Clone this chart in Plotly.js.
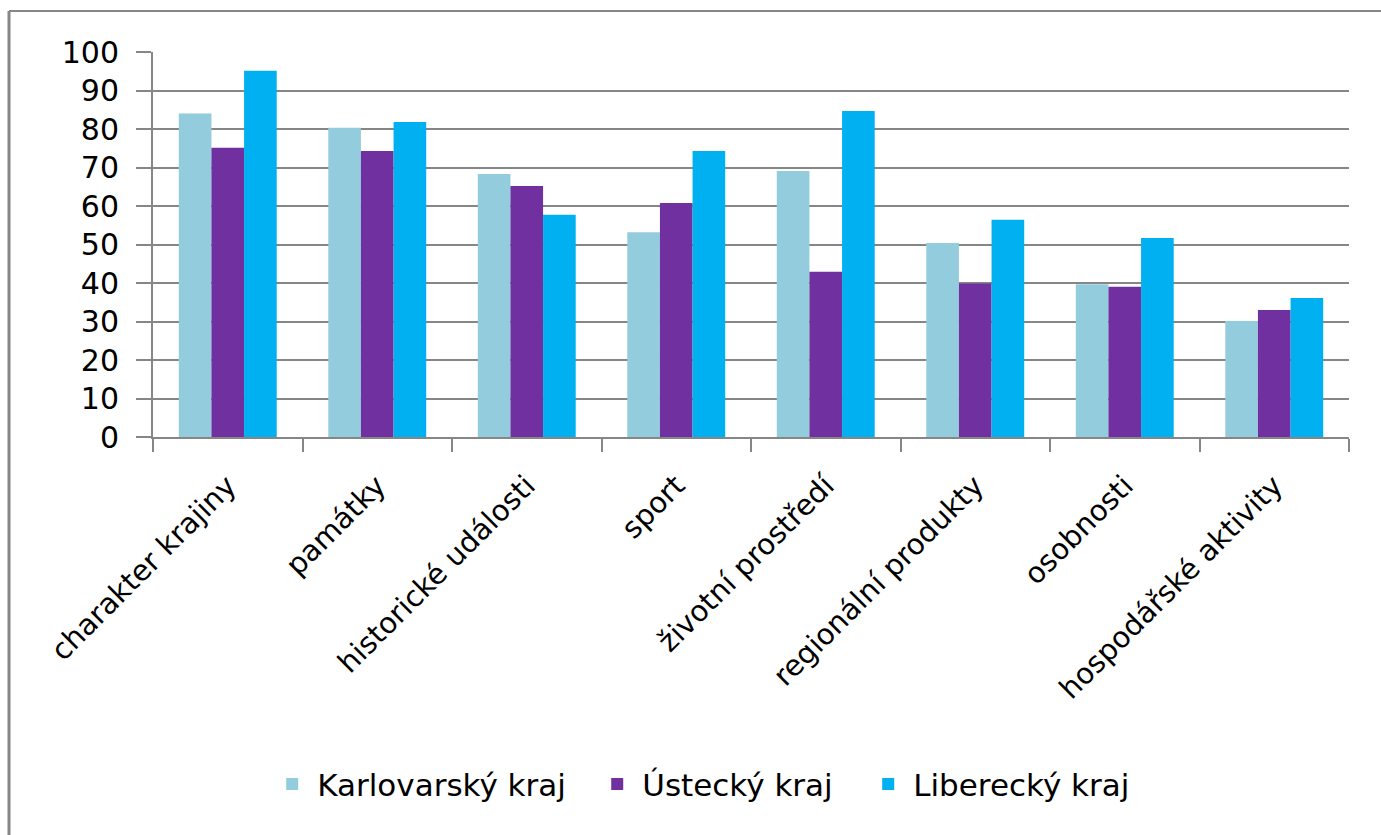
<!DOCTYPE html>
<html>
<head>
<meta charset="utf-8">
<script src="https://cdn.plot.ly/plotly-3.0.1.min.js"></script>
<style>
html,body{margin:0;padding:0;background:#fff;}
#chart{width:1381px;height:835px;}
</style>
</head>
<body>
<div id="chart"></div>
<script>
const categories = ["charakter krajiny","památky","historické události","sport","životní prostředí","regionální produkty","osobnosti","hospodářské aktivity"];
const seriesNames = ["Karlovarský kraj","Ústecký kraj","Liberecký kraj"];
const karlovarsky = [84, 80.3, 68.3, 53.2, 69.1, 50.4, 39.7, 30.1];
const ustecky = [75.1, 74.3, 65.2, 60.8, 42.9, 39.9, 39.0, 33.0];
const liberecky = [95.1, 81.8, 57.7, 74.3, 84.7, 56.4, 51.7, 36.1];
const yTicks = [0,10,20,30,40,50,60,70,80,90,100];
const colors = ["#93CDDD","#7030A0","#00B0F0"];

const FONT = "DejaVu Sans, Verdana, sans-serif";
const seriesValues = [karlovarsky, ustecky, liberecky];
const legendWidths = [270, 216, 212];
const traces = seriesValues.map((vals, i) => ({
  type: "bar",
  name: seriesNames[i],
  x: categories,
  y: vals,
  legendwidth: legendWidths[i],
  marker: {color: colors[i], line: {width: 0}},
  hoverinfo: "x+y+name"
}));

const layout = {
  width: 1381, height: 835,
  margin: {l: 153, r: 32, t: 52, b: 398},
  paper_bgcolor: "#ffffff",
  plot_bgcolor: "#ffffff",
  barmode: "group",
  bargap: 0.345,
  bargroupgap: 0,
  font: {family: FONT, size: 29, color: "#000000"},
  showlegend: true,
  legend: {
    orientation: "h",
    x: 0.0955, xanchor: "left",
    y: -0.902, yanchor: "middle",
    font: {family: FONT, size: 31, color: "#000"},
    itemwidth: 40,
    traceorder: "normal",
    itemclick: false
  },
  xaxis: {
    type: "category",
    tickangle: -45,
    showgrid: false,
    showline: true, linecolor: "#868686", linewidth: 2,
    ticks: "outside", ticklen: 13, tickcolor: "#868686", tickwidth: 2,
    tickson: "boundaries",
    ticklabelstandoff: 18,
    tickfont: {family: FONT, size: 29, color: "#000"},
    fixedrange: true
  },
  yaxis: {
    range: [0, 100],
    tickvals: yTicks,
    ticktext: yTicks.map(String),
    showgrid: true, gridcolor: "#868686", gridwidth: 2,
    showline: true, linecolor: "#868686", linewidth: 2,
    ticks: "outside", ticklen: 15, tickcolor: "#868686", tickwidth: 2,
    ticklabelstandoff: 11,
    zeroline: false,
    tickfont: {family: FONT, size: 30, color: "#000"},
    fixedrange: true
  },
  shapes: [
    {type: "line", xref: "paper", yref: "paper", x0: -0.1204, x1: 1.05, y0: 1.1065, y1: 1.1065, line: {color: "#868686", width: 2}},
    {type: "line", xref: "paper", yref: "paper", x0: -0.1204, x1: -0.1204, y0: 1.1065, y1: -1.05, line: {color: "#868686", width: 3}}
  ]
};

Plotly.newPlot("chart", traces, layout, {displayModeBar: false, staticPlot: true});
</script>
</body>
</html>
